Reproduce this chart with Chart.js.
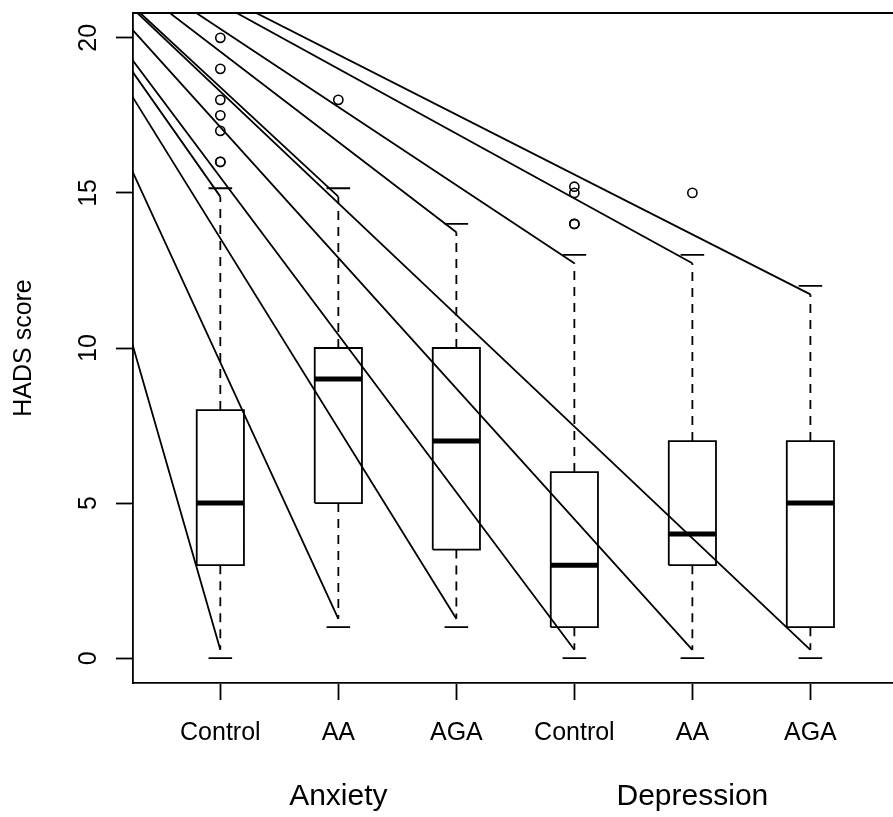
<!DOCTYPE html>
<html>
<head>
<meta charset="utf-8">
<script src="https://cdn.jsdelivr.net/npm/chart.js@4.4.1/dist/chart.umd.min.js"></script>
<style>
  html, body { margin: 0; padding: 0; background: #fff; }
  #chart { display: block; }
</style>
</head>
<body>
<canvas id="chart" width="893" height="817"></canvas>
<script>
// groups along the x axis
const categories = ['Control', 'AA', 'AGA', 'Control', 'AA', 'AGA'];
const groupNames = ['Anxiety', 'Depression'];   // each one covers three boxes
const groupCentres = [2, 5];
const yTicks = [0, 5, 10, 15, 20];

// box summaries
const lowerWhisker = [0, 1, 1, 0, 0, 0];
const lowerQuartile = [3, 5, 3.5, 1, 3, 1];
const medians = [5, 9, 7, 3, 4, 5];
const upperQuartile = [8, 10, 10, 6, 7, 7];
const upperWhisker = [15.15, 15.15, 14, 13, 13, 12];

const outliers = [
    [16, 16, 17, 17.5, 18, 19, 20],
    [18],
    [],
    [14, 14, 15, 15.2],
    [15],
    []
];

// the stray lines all start from one point up and left of the plot
const strayOrigin = {x: -0.87, y: 25};

const FONT = 'Liberation Sans, Arial, Helvetica, sans-serif';
const boxHalf = 0.2;
const capHalf = 0.1;
const whiskerGap = 0.27;   // whisker line stops a little short of the cap

const xs = categories.map((_, i) => i + 1);

// join several little polylines into one dataset, broken by null points
function pieces(list) {
    const out = [];
    list.forEach(pts => {
        out.push(...pts);
        out.push({x: pts[pts.length - 1].x, y: null});
    });
    return out;
}

const boxLines = pieces(xs.map((x, i) => [
    {x: x - boxHalf, y: lowerQuartile[i]},
    {x: x + boxHalf, y: lowerQuartile[i]},
    {x: x + boxHalf, y: upperQuartile[i]},
    {x: x - boxHalf, y: upperQuartile[i]},
    {x: x - boxHalf, y: lowerQuartile[i]}
]));

const medianLines = pieces(xs.map((x, i) => [
    {x: x - boxHalf, y: medians[i]},
    {x: x + boxHalf, y: medians[i]}
]));

const whiskerLines = pieces(xs.flatMap((x, i) => [
    [{x: x, y: upperQuartile[i]}, {x: x, y: upperWhisker[i] - whiskerGap}],
    [{x: x, y: lowerQuartile[i]}, {x: x, y: lowerWhisker[i] + whiskerGap}]
]));

const capLines = pieces(xs.flatMap((x, i) => [
    [{x: x - capHalf, y: upperWhisker[i]}, {x: x + capHalf, y: upperWhisker[i]}],
    [{x: x - capHalf, y: lowerWhisker[i]}, {x: x + capHalf, y: lowerWhisker[i]}]
]));

const strayLines = pieces(xs.flatMap((x, i) => [
    [strayOrigin, {x: x, y: upperWhisker[i] - whiskerGap}],
    [strayOrigin, {x: x, y: lowerWhisker[i] + whiskerGap}]
]));

const outlierPoints = xs.flatMap((x, i) => outliers[i].map(v => ({x: x, y: v})));

function lineSet(data, width, extra) {
    return Object.assign({
        data: data,
        showLine: true,
        borderColor: '#000',
        borderWidth: width,
        pointRadius: 0,
        pointHoverRadius: 0,
        spanGaps: false,
        fill: false
    }, extra || {});
}

// no extra room for label overhang, the plot box is placed by hand
function noPadding(axis) {
    axis.paddingTop = 0;
    axis.paddingBottom = 0;
    axis.paddingLeft = 0;
    axis.paddingRight = 0;
}

const frameAndGroups = {
    id: 'frameAndGroups',
    afterDraw(chart) {
        const {ctx, chartArea, scales} = chart;
        ctx.save();
        ctx.strokeStyle = '#000';
        ctx.lineWidth = 1.8;
        ctx.beginPath();
        ctx.moveTo(chartArea.left - 0.9, chartArea.top);
        ctx.lineTo(chartArea.right, chartArea.top);
        ctx.stroke();

        ctx.fillStyle = '#000';
        ctx.font = '30px ' + FONT;
        ctx.textAlign = 'center';
        ctx.textBaseline = 'middle';
        groupNames.forEach((name, i) => {
            ctx.fillText(name, scales.x.getPixelForValue(groupCentres[i]), 797);
        });
        ctx.restore();
    }
};

new Chart(document.getElementById('chart'), {
    type: 'scatter',
    data: {
        datasets: [
            lineSet(strayLines, 1.8, {clip: 0}),
            lineSet(boxLines, 1.8),
            lineSet(medianLines, 5),
            lineSet(whiskerLines, 1.8, {borderDash: [9, 7]}),
            lineSet(capLines, 1.8),
            {
                data: outlierPoints,
                showLine: false,
                pointStyle: 'circle',
                pointRadius: 4.6,
                pointHoverRadius: 4.6,
                pointBorderWidth: 1.6,
                pointBorderColor: '#000',
                pointBackgroundColor: 'rgba(0,0,0,0)'
            }
        ]
    },
    options: {
        responsive: false,
        animation: false,
        devicePixelRatio: 1,
        layout: {
            autoPadding: false,
            padding: {top: 13, right: 0, bottom: 0, left: 0}
        },
        plugins: {
            legend: {display: false},
            tooltip: {enabled: false}
        },
        scales: {
            x: {
                type: 'linear',
                min: 0.26,
                max: 6.7,
                offset: false,
                afterBuildTicks: axis => {
                    axis.ticks = xs.map(v => ({value: v}));
                },
                afterFit: axis => {
                    axis.height = 134;
                    noPadding(axis);
                },
                ticks: {
                    callback: v => categories[v - 1],
                    color: '#000',
                    font: {family: FONT, size: 25},
                    padding: 18,
                    maxRotation: 0,
                    autoSkip: false
                },
                grid: {
                    drawOnChartArea: false,
                    drawTicks: true,
                    tickLength: 17,
                    tickWidth: 1.8,
                    color: '#000'
                },
                border: {display: true, color: '#000', width: 1.8}
            },
            y: {
                type: 'linear',
                min: -0.8,
                max: 20.8,
                afterBuildTicks: axis => {
                    axis.ticks = yTicks.map(v => ({value: v}));
                },
                afterFit: axis => {
                    axis.width = 133;
                    noPadding(axis);
                },
                ticks: {
                    color: '#000',
                    font: {family: FONT, size: 25},
                    minRotation: 90,
                    maxRotation: 90,
                    crossAlign: 'center',
                    padding: 13
                },
                grid: {
                    drawOnChartArea: false,
                    drawTicks: true,
                    tickLength: 17,
                    tickWidth: 1.8,
                    color: '#000'
                },
                border: {display: true, color: '#000', width: 1.8},
                title: {
                    display: true,
                    text: 'HADS score',
                    color: '#000',
                    font: {family: FONT, size: 25},
                    padding: {top: 9, bottom: 0}
                }
            }
        }
    },
    plugins: [frameAndGroups]
});
</script>
</body>
</html>
